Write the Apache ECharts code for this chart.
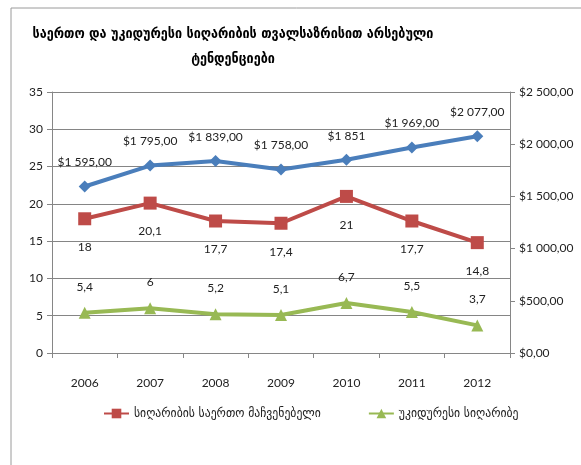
<!DOCTYPE html>
<html>
<head>
<meta charset="utf-8">
<script src="https://cdn.jsdelivr.net/npm/echarts@6/dist/echarts.min.js"></script>
<style>
  html, body { margin: 0; padding: 0; background: #fff; }
  #main { width: 581px; height: 465px; }
</style>
</head>
<body>
<div id="main"></div>
<script>
var years = ['2006', '2007', '2008', '2009', '2010', '2011', '2012'];
var gdpValues = [1595, 1795, 1839, 1758, 1851, 1969, 2077]; // right axis, $
var gdpLabels = ['$1 595,00', '$1 795,00', '$1 839,00', '$1 758,00', '$1 851', '$1 969,00', '$2 077,00'];
var totalPoverty = [18, 20.1, 17.7, 17.4, 21, 17.7, 14.8];
var extremePoverty = [5.4, 6, 5.2, 5.1, 6.7, 5.5, 3.7];
var leftTicks = [0, 5, 10, 15, 20, 25, 30, 35];
var rightTicks = [0, 500, 1000, 1500, 2000, 2500];

var titleText = 'საერთო და უკიდურესი სიღარიბის თვალსაზრისით არსებული\nტენდენციები';
var nameTotal = 'სიღარიბის საერთო მაჩვენებელი';
var nameExtreme = 'უკიდურესი სიღარიბე';

var font = 'Lato, "DejaVu Sans Condensed", "DejaVu Sans", sans-serif';
var geoFont = '"DejaVu Sans Condensed", "DejaVu Sans", sans-serif';

function comma(v) { return String(v).replace('.', ','); } // decimal comma like the source
function money(v) {
  var s = String(Math.round(v));
  if (s.length > 3) s = s.slice(0, s.length - 3) + ' ' + s.slice(-3);
  return '$' + s + ',00';
}

var chart = echarts.init(document.getElementById('main'));

chart.setOption({
  animation: false,
  textStyle: { fontFamily: font },
  graphic: [{
    type: 'rect',
    shape: { x: 11, y: 8, width: 700, height: 600 },
    style: { fill: 'none', stroke: '#9a9a9a', lineWidth: 1 },
    silent: true
  }],
  title: {
    text: titleText,
    left: 228,
    textAlign: 'center',
    top: 17,
    textStyle: {
      fontFamily: geoFont,
      fontSize: 14,
      fontWeight: 'bold',
      color: '#000',
      lineHeight: 25
    }
  },
  legend: {
    data: [nameTotal, nameExtreme],
    bottom: 40,
    left: 98,
    itemGap: 47,
    itemWidth: 25,
    itemHeight: 12,
    textStyle: { fontFamily: geoFont, fontSize: 13, color: '#222' }
  },
  grid: { left: 52, right: 71, top: 92, bottom: 112 },
  xAxis: {
    type: 'category',
    data: years,
    boundaryGap: true,
    axisLine: { lineStyle: { color: '#868686' } },
    axisTick: { show: true, length: 5, lineStyle: { color: '#868686' } },
    axisLabel: { margin: 24, fontSize: 12, color: '#222' }
  },
  yAxis: [{
    type: 'value',
    min: leftTicks[0],
    max: leftTicks[leftTicks.length - 1],
    interval: 5,
    axisLine: { show: true, lineStyle: { color: '#868686' } },
    axisTick: { show: true, length: 5, lineStyle: { color: '#868686' } },
    axisLabel: { fontSize: 12, color: '#222', margin: 9 },
    splitLine: { lineStyle: { color: '#858585', width: 1 } }
  }, {
    type: 'value',
    position: 'right',
    min: rightTicks[0],
    max: rightTicks[rightTicks.length - 1],
    interval: 500,
    alignTicks: false,
    axisLine: { show: true, lineStyle: { color: '#868686' } },
    axisTick: { show: true, length: 5, lineStyle: { color: '#868686' } },
    axisLabel: { fontSize: 12, color: '#222', margin: 9, formatter: money },
    splitLine: { show: false }
  }],
  series: [{
    name: 'GDP',
    type: 'line',
    yAxisIndex: 1,
    data: gdpValues,
    symbol: 'diamond',
    symbolSize: 12,
    lineStyle: { color: '#4a7ebb', width: 4 },
    itemStyle: { color: '#4a7ebb' },
    label: {
      show: true,
      position: 'top',
      distance: 12,
      fontSize: 12,
      color: '#222',
      formatter: function (p) { return gdpLabels[p.dataIndex]; }
    }
  }, {
    name: nameTotal,
    type: 'line',
    data: totalPoverty,
    symbol: 'rect',
    symbolSize: 13,
    lineStyle: { color: '#be4b48', width: 4 },
    itemStyle: { color: '#be4b48' },
    label: {
      show: true,
      position: 'bottom',
      distance: 16,
      fontSize: 12,
      color: '#222',
      formatter: function (p) { return comma(p.value); }
    }
  }, {
    name: nameExtreme,
    type: 'line',
    data: extremePoverty,
    symbol: 'triangle',
    symbolSize: 12,
    lineStyle: { color: '#98b954', width: 4 },
    itemStyle: { color: '#98b954' },
    label: {
      show: true,
      position: 'top',
      distance: 14,
      fontSize: 12,
      color: '#222',
      formatter: function (p) { return comma(p.value); }
    }
  }]
});
</script>
</body>
</html>
